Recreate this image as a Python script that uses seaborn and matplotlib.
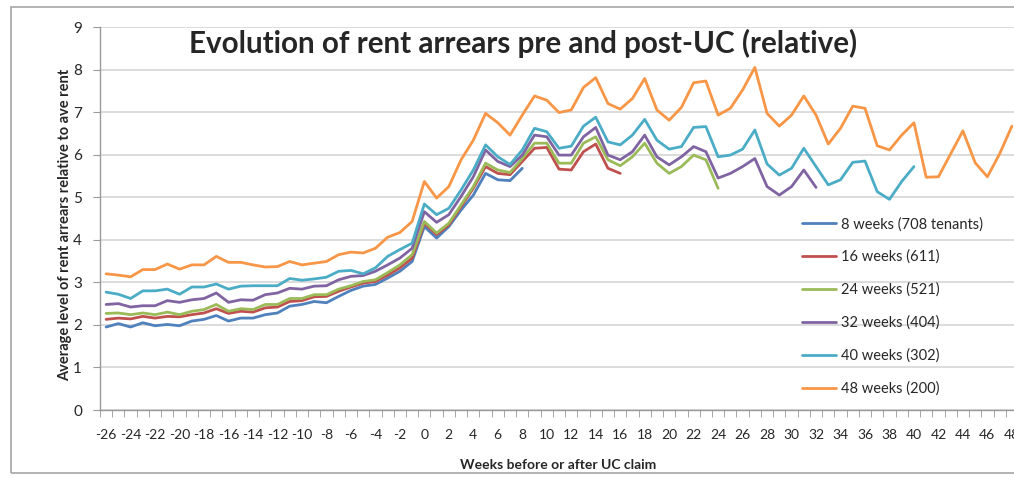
import matplotlib
matplotlib.use("Agg")
import matplotlib.pyplot as plt
from matplotlib.patches import Rectangle
import numpy as np
import pandas as pd
import seaborn as sns

# weeks before (-) / after (+) the UC claim; each cohort followed for a set horizon
series_names = ['8 weeks (708 tenants)', '16 weeks (611)', '24 weeks (521)',
                '32 weeks (404)', '40 weeks (302)', '48 weeks (200)']
horizons = [8, 16, 24, 32, 40, 48]
colours = ['#4F81BD', '#C0504D', '#9BBB59', '#8064A2', '#4BACC6', '#F79646']

wk8 = [1.95, 2.03, 1.95, 2.05, 1.98, 2.01, 1.98, 2.09, 2.13, 2.22, 2.09, 2.16, 2.16, 2.24,
       2.28, 2.44, 2.48, 2.55, 2.52, 2.67, 2.81, 2.91, 2.95, 3.10, 3.26, 3.49, 4.31,
       4.04, 4.31, 4.70, 5.05, 5.56, 5.41, 5.39, 5.68]
wk16 = [2.13, 2.16, 2.14, 2.20, 2.16, 2.20, 2.19, 2.24, 2.28, 2.38, 2.27, 2.32, 2.30, 2.40,
        2.42, 2.55, 2.57, 2.66, 2.67, 2.79, 2.89, 2.98, 3.02, 3.17, 3.34, 3.57, 4.39,
        4.12, 4.35, 4.78, 5.21, 5.72, 5.56, 5.53, 5.84, 6.15, 6.17, 5.66, 5.64, 6.07, 6.25,
        5.68, 5.56]
wk24 = [2.27, 2.28, 2.24, 2.28, 2.24, 2.30, 2.24, 2.32, 2.36, 2.48, 2.32, 2.38, 2.36, 2.48,
        2.48, 2.62, 2.62, 2.71, 2.71, 2.84, 2.92, 3.02, 3.06, 3.23, 3.41, 3.65, 4.43,
        4.16, 4.39, 4.82, 5.25, 5.80, 5.64, 5.58, 5.91, 6.27, 6.27, 5.80, 5.80, 6.27, 6.42,
        5.88, 5.74, 5.95, 6.27, 5.80, 5.56, 5.72, 5.99, 5.88, 5.21]
wk32 = [2.48, 2.50, 2.42, 2.45, 2.45, 2.57, 2.53, 2.59, 2.62, 2.75, 2.53, 2.59, 2.58, 2.71,
        2.75, 2.86, 2.84, 2.91, 2.92, 3.06, 3.14, 3.16, 3.26, 3.41, 3.57, 3.80, 4.66,
        4.41, 4.59, 5.02, 5.48, 6.11, 5.84, 5.72, 5.99, 6.46, 6.42, 5.99, 5.99, 6.42, 6.64,
        5.99, 5.88, 6.07, 6.46, 5.95, 5.76, 5.95, 6.19, 6.07, 5.45, 5.56, 5.72, 5.91, 5.25,
        5.05, 5.25, 5.64, 5.23]
wk40 = [2.77, 2.72, 2.62, 2.80, 2.80, 2.84, 2.72, 2.89, 2.89, 2.96, 2.84, 2.91, 2.92, 2.92,
        2.92, 3.09, 3.05, 3.08, 3.12, 3.26, 3.28, 3.20, 3.34, 3.61, 3.77, 3.92, 4.84,
        4.59, 4.74, 5.17, 5.64, 6.23, 5.95, 5.77, 6.11, 6.62, 6.54, 6.15, 6.20, 6.67, 6.88,
        6.30, 6.23, 6.46, 6.83, 6.34, 6.13, 6.19, 6.64, 6.66, 5.95, 5.99, 6.13, 6.58, 5.78,
        5.52, 5.68, 6.15, 5.72, 5.29, 5.41, 5.82, 5.85, 5.13, 4.95, 5.37, 5.72]
wk48 = [3.20, 3.17, 3.13, 3.30, 3.30, 3.43, 3.31, 3.41, 3.41, 3.61, 3.47, 3.47, 3.41, 3.36,
        3.37, 3.49, 3.41, 3.45, 3.49, 3.65, 3.71, 3.69, 3.80, 4.06, 4.17, 4.43, 5.37,
        4.98, 5.25, 5.88, 6.34, 6.97, 6.75, 6.46, 6.93, 7.38, 7.28, 6.99, 7.05, 7.58, 7.81,
        7.20, 7.07, 7.32, 7.79, 7.05, 6.81, 7.11, 7.69, 7.73, 6.93, 7.09, 7.52, 8.05, 6.97,
        6.67, 6.93, 7.38, 6.93, 6.25, 6.62, 7.14, 7.09, 6.21, 6.11, 6.46, 6.75, 5.47, 5.48,
        6.02, 6.56, 5.81, 5.48, 6.02, 6.67]

all_values = [wk8, wk16, wk24, wk32, wk40, wk48]
frames = []
for name, h, vals in zip(series_names, horizons, all_values):
    weeks = list(range(-26, h + 1))
    assert len(weeks) == len(vals), name
    frames.append(pd.DataFrame({'week': weeks, 'level': vals, 'cohort': name}))
df = pd.concat(frames, ignore_index=True)

sns.set_style('white')
plt.rcParams['font.family'] = ['Lato', 'DejaVu Sans']
plt.rcParams['axes.unicode_minus'] = False

fig = plt.figure(figsize=(10.14, 4.78), dpi=100)
W, H = 1014, 478
ax = fig.add_axes([100 / W, 1 - 410 / H, 918 / W, 383 / H])

# chart border like the Excel chart area
fig.patches.append(Rectangle((11 / W, 1 - 473 / H), 1.2, 466 / H, transform=fig.transFigure,
                             fill=False, edgecolor='#A6A6A6', linewidth=1.2))

sns.lineplot(data=df, x='week', y='level', hue='cohort', hue_order=series_names,
             palette=colours, linewidth=2.0, ax=ax, solid_joinstyle='round',
             solid_capstyle='round')

ax.set_xlim(-26.5, 48.5)
ax.set_ylim(0, 9)
ax.set_yticks(range(0, 10))
ax.yaxis.grid(True, color='#D9D9D9', linewidth=1.3)
ax.set_axisbelow(True)
for s in ['top', 'right']:
    ax.spines[s].set_visible(False)
for s in ['left', 'bottom']:
    ax.spines[s].set_color('#999999')
    ax.spines[s].set_linewidth(1.0)

ax.set_xticks(range(-26, 49, 2))
ax.set_xticks(np.arange(-26.5, 49, 1), minor=True)
ax.tick_params(axis='x', which='major', length=0, pad=14, labelsize=10)
ax.tick_params(axis='x', which='minor', length=5, direction='out', color='#999999', bottom=True)
ax.tick_params(axis='y', length=5, direction='out', color='#999999', left=True, pad=8,
               labelsize=11)

ax.set_xlabel('Weeks before or after UC claim', fontsize=10, fontweight='bold')
ax.xaxis.set_label_coords(0.499, -0.1436)
ax.xaxis.label.set_va('center')
ax.set_ylabel('Average level of rent arrears relative to ave rent', fontsize=10.5,
              fontweight='bold')
ax.yaxis.set_label_coords(-0.038, 0.483)
ax.yaxis.label.set_va('center')

fig.text(523 / W, 1 - 43 / H, 'Evolution of rent arrears pre and post-UC (relative)',
         ha='center', va='center', fontsize=21.3, fontweight='bold')

ax.legend(loc='upper left', bbox_to_anchor=(802 / W, 1 - 217 / H),
          bbox_transform=fig.transFigure, frameon=False, fontsize=10.5,
          handlelength=2.3, handletextpad=0.35, labelspacing=1.27, borderpad=0,
          borderaxespad=0)

fig.savefig('out.png', dpi=100)
